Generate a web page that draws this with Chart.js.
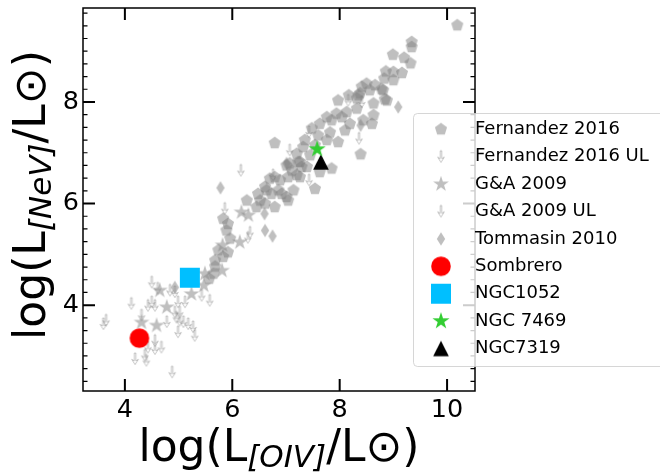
<!DOCTYPE html>
<html>
<head>
<meta charset="utf-8">
<script src="https://cdn.jsdelivr.net/npm/chart.js@4.4.0/dist/chart.umd.min.js"></script>
<style>
  html, body { margin: 0; padding: 0; background: #fff; }
  #wrap { width: 660px; height: 472px; position: relative; }
</style>
</head>
<body>
<div id="wrap"><canvas id="chart"></canvas></div>
<script>
// log L[OIV] vs log L[NeV]
const fernandez2016 = [
  [10.19,9.51],[9.34,9.18],[9.34,9.08],[8.99,8.93],[9.20,8.87],[9.32,8.76],[8.86,8.60],[9.00,8.59],
  [9.16,8.57],[8.83,8.46],[9.00,8.43],[8.78,8.25],[8.84,8.05],[8.88,8.03],[8.66,8.33],[8.81,8.23],
  [8.56,8.23],[8.41,8.30],[8.50,8.36],[8.38,8.17],[8.35,8.13],[8.32,8.07],[8.63,7.97],[8.32,7.87],
  [8.13,7.80],[8.04,7.70],[8.63,7.74],[8.60,7.57],[8.44,7.64],[8.39,6.97],[7.94,7.77],[7.85,7.64],
  [7.63,7.57],[7.76,7.70],[7.97,8.03],[8.17,8.13],[8.10,7.44],[8.19,7.57],[7.76,7.25],[7.97,7.21],
  [6.79,7.19],[7.32,7.11],[7.20,6.98],[7.26,6.82],[7.07,6.79],[7.39,6.72],[7.85,6.69],[7.63,6.62],
  [7.26,6.52],[7.04,6.52],[6.89,6.46],[6.70,6.49],[7.54,6.29],[6.64,6.26],[6.86,6.26],[7.14,6.26],
  [7.01,6.13],[7.04,6.06],[6.45,5.93],[6.52,6.06],[6.61,6.00],[6.79,5.93],[6.73,6.19],[6.92,6.19],
  [6.61,6.33],[6.79,6.52],[7.01,6.75],[7.11,6.65],[7.20,6.56],[7.29,6.72],[7.23,6.82],[5.83,5.70],
  [5.92,5.60],[5.89,5.47],[5.96,5.31],[5.74,5.08],[5.83,4.95],[5.68,4.88],[5.65,4.62],[5.92,5.04],
  [6.48,6.19],[7.35,7.25],[7.54,7.15],[7.45,6.95],[7.60,7.34],[7.82,7.40],[7.48,7.48],[5.57,4.52],
  [5.68,4.76],[6.27,6.06]
];
const fernandez2016UL = [
  [6.16,6.65],[7.07,7.05],[7.43,7.41],[7.43,6.46],[8.36,7.28],[8.16,8.03],[8.41,8.00],[6.76,6.56],
  [6.33,5.43],[6.29,5.33],[5.86,5.90],[4.12,4.03],[3.60,3.63],[4.88,2.68],[5.43,4.19],[5.58,4.09]
];
const ga2009 = [
  [4.65,4.29],[4.78,3.96],[5.24,4.22],[5.49,4.62],[5.47,4.39],[4.59,3.60],[4.31,3.66],[5.81,4.68],
  [5.82,5.18],[6.14,5.24],[6.17,5.83],[6.30,5.77]
];
const ga2009UL = [
  [3.65,3.70],[4.50,4.45],[4.61,4.33],[4.43,3.99],[4.50,4.06],[4.56,3.99],[4.93,3.86],[4.99,4.06],
  [5.02,3.86],[5.12,4.06],[4.78,3.67],[4.99,3.47],[5.09,3.67],[5.18,3.63],[5.27,3.57],[5.30,3.40],
  [4.56,3.30],[4.56,3.14],[4.68,3.17],[4.43,3.17],[4.37,3.01],[4.40,2.91],[4.19,2.94],[4.31,3.80],
  [4.84,4.29],[4.93,4.26],[4.96,3.76],[5.02,3.70]
];
const tommasin2010 = [
  [5.78,6.31],[6.61,5.47],[6.75,5.36],[6.60,5.80],[4.93,4.35],[9.09,7.90],[8.39,7.54],[7.01,6.79]
];
const sombrero = [[4.27,3.35]];
const ngc1052 = [[5.21,4.54]];
const ngc7469 = [[7.58,7.07]];
const ngc7319 = [[7.65,6.82]];

const xMajor = [4, 6, 8, 10];
const yMajor = [4, 6, 8];
const yMinor = [2.5,2.75,3,3.25,3.5,3.75,4.25,4.5,4.75,5,5.25,5.5,5.75,6.25,6.5,6.75,7,7.25,7.5,7.75,8.25,8.5,8.75,9,9.25,9.5,9.75];

const GRAY = 'rgba(128,128,128,0.5)';
const FONT = '"DejaVu Sans", "Liberation Sans", sans-serif';

// marker images (matplotlib-like shapes that Chart.js lacks)
function marker(w, h, paint) {
    const c = document.createElement('canvas');
    c.width = w; c.height = h;
    const g = c.getContext('2d');
    g.translate(w / 2, h / 2);
    paint(g);
    return c;
}
function poly(g, pts) {
    g.beginPath();
    pts.forEach(([a, b], i) => i ? g.lineTo(a, b) : g.moveTo(a, b));
    g.closePath();
}
function regular(n, R, r) {
    const pts = [];
    const steps = r ? n * 2 : n;
    for (let k = 0; k < steps; k++) {
        const ang = -Math.PI / 2 + k * 2 * Math.PI / steps;
        const rr = (r && k % 2) ? r : R;
        pts.push([rr * Math.cos(ang), rr * Math.sin(ang)]);
    }
    return pts;
}

const pentagonImg = marker(16, 16, g => { poly(g, regular(5, 6.4)); g.fillStyle = GRAY; g.fill(); });
const grayStarImg = marker(20, 20, g => { poly(g, regular(5, 8.3, 3.2)); g.fillStyle = GRAY; g.fill(); });
const diamondImg = marker(12, 16, g => { poly(g, [[0,-6.8],[4.2,0],[0,6.8],[-4.2,0]]); g.fillStyle = GRAY; g.fill(); });
const arrowImg = marker(10, 16, g => {
    poly(g, [[-0.8,-6],[0.8,-6],[0.8,1.8],[3.3,0.4],[0,5.6],[-3.3,0.4],[-0.8,1.8]]);
    g.strokeStyle = 'rgba(128,128,128,0.45)'; g.lineWidth = 1; g.stroke();
});
const circleImg = marker(22, 22, g => { g.beginPath(); g.arc(0, 0, 9.8, 0, Math.PI * 2); g.fillStyle = '#ff0000'; g.fill(); });
const squareImg = marker(22, 22, g => { g.fillStyle = '#00bfff'; g.fillRect(-10, -10, 20, 20); });
const greenStarImg = marker(22, 22, g => { poly(g, regular(5, 9, 3.45)); g.fillStyle = '#32cd32'; g.fill(); });
const triangleImg = marker(18, 18, g => { poly(g, [[0,-7.7],[7.8,7.7],[-7.8,7.7]]); g.fillStyle = '#000'; g.fill(); });

function toPts(arr) { return arr.map(([x, y]) => ({ x, y })); }
function ds(label, arr, img, order) {
    return { label, data: toPts(arr), pointStyle: img, pointRadius: 5, pointHoverRadius: 5, order };
}

function drawMathLabel(ctx, sub, cx, baseY) {
    const parts = [
        { t: 'log(L', font: '44px ' + FONT, dy: 0 },
        { t: sub, font: 'italic 31px ' + FONT, dy: 6 },
        { t: '/L\u2299)', font: '44px ' + FONT, dy: 0 }
    ];
    let total = 0;
    parts.forEach(p => { ctx.font = p.font; p.w = ctx.measureText(p.t).width; total += p.w; });
    let x = cx - total / 2;
    ctx.fillStyle = '#000';
    ctx.textBaseline = 'alphabetic';
    ctx.textAlign = 'left';
    parts.forEach(p => { ctx.font = p.font; ctx.fillText(p.t, x, baseY + p.dy); x += p.w; });
}

const framePlugin = {
    id: 'frame',
    afterDatasetsDraw(chart) {
        const { ctx, chartArea: a, scales: { x, y } } = chart;
        ctx.save();
        ctx.strokeStyle = '#000';
        ctx.lineWidth = 1.5;
        ctx.strokeRect(a.left, a.top, a.right - a.left, a.bottom - a.top);
        ctx.lineWidth = 2;
        ctx.beginPath();
        xMajor.forEach(v => {
            const px = x.getPixelForValue(v);
            ctx.moveTo(px, a.bottom); ctx.lineTo(px, a.bottom - 12);
            ctx.moveTo(px, a.top); ctx.lineTo(px, a.top + 12);
        });
        yMajor.forEach(v => {
            const py = y.getPixelForValue(v);
            ctx.moveTo(a.left, py); ctx.lineTo(a.left + 12, py);
            ctx.moveTo(a.right, py); ctx.lineTo(a.right - 12, py);
        });
        ctx.stroke();
        ctx.lineWidth = 1.2;
        ctx.beginPath();
        yMinor.forEach(v => {
            const py = y.getPixelForValue(v);
            ctx.moveTo(a.left, py); ctx.lineTo(a.left + 4.5, py);
            ctx.moveTo(a.right, py); ctx.lineTo(a.right - 4.5, py);
        });
        ctx.stroke();
        ctx.restore();
    },
    afterDraw(chart) {
        const { ctx, chartArea: a } = chart;
        ctx.save();
        // axis titles
        drawMathLabel(ctx, '[OIV]', (a.left + a.right) / 2, 461);
        ctx.save();
        ctx.translate(45, 195);
        ctx.rotate(-Math.PI / 2);
        drawMathLabel(ctx, '[NeV]', 0, 0);
        ctx.restore();

        // legend
        const bx = 413.5, by = 113.5, bw = 260, bh = 253;
        ctx.beginPath();
        ctx.roundRect(bx, by, bw, bh, 4);
        ctx.fillStyle = 'rgba(255,255,255,0.8)';
        ctx.fill();
        ctx.strokeStyle = 'rgba(204,204,204,0.8)';
        ctx.lineWidth = 1;
        ctx.stroke();
        ctx.font = '18px ' + FONT;
        ctx.fillStyle = '#000';
        ctx.textBaseline = 'middle';
        ctx.textAlign = 'left';
        chart.data.datasets.forEach((d, i) => {
            const ry = 129.3 + i * 27.4;
            const img = d.pointStyle;
            ctx.drawImage(img, 441 - img.width / 2, ry - img.height / 2);
            ctx.fillText(d.label, 475, ry);
        });
        ctx.restore();
    }
};

const tickFont = { family: FONT, size: 25.5 };

new Chart(document.getElementById('chart'), {
    type: 'scatter',
    data: {
        datasets: [
            ds('Fernandez 2016', fernandez2016, pentagonImg, 2),
            ds('Fernandez 2016 UL', fernandez2016UL, arrowImg, 3),
            ds('G&A 2009', ga2009, grayStarImg, 2),
            ds('G&A 2009 UL', ga2009UL, arrowImg, 3),
            ds('Tommasin 2010', tommasin2010, diamondImg, 2),
            ds('Sombrero', sombrero, circleImg, 0),
            ds('NGC1052', ngc1052, squareImg, 0),
            ds('NGC 7469', ngc7469, greenStarImg, 0),
            ds('NGC7319', ngc7319, triangleImg, 0)
        ]
    },
    options: {
        responsive: true,
        maintainAspectRatio: false,
        animation: false,
        events: [],
        layout: { autoPadding: false, padding: { top: 8, right: 185, bottom: 0, left: 0 } },
        plugins: { legend: { display: false }, tooltip: { enabled: false }, title: { display: false } },
        scales: {
            x: {
                type: 'linear', min: 3.22, max: 10.52,
                afterBuildTicks: s => { s.ticks = xMajor.map(v => ({ value: v })); },
                afterFit: s => { s.height = 81; s.paddingLeft = 0; s.paddingRight = 0; },
                grid: { display: false, drawTicks: false },
                border: { display: false },
                ticks: { font: tickFont, color: '#000', padding: 4, maxRotation: 0, autoSkip: false }
            },
            y: {
                type: 'linear', min: 2.31, max: 9.85,
                afterBuildTicks: s => { s.ticks = yMajor.map(v => ({ value: v })); },
                afterFit: s => { s.width = 83; s.paddingTop = 0; s.paddingBottom = 0; },
                grid: { display: false, drawTicks: false },
                border: { display: false },
                ticks: { font: tickFont, color: '#000', padding: 4, autoSkip: false }
            }
        }
    },
    plugins: [framePlugin]
});
</script>
</body>
</html>
